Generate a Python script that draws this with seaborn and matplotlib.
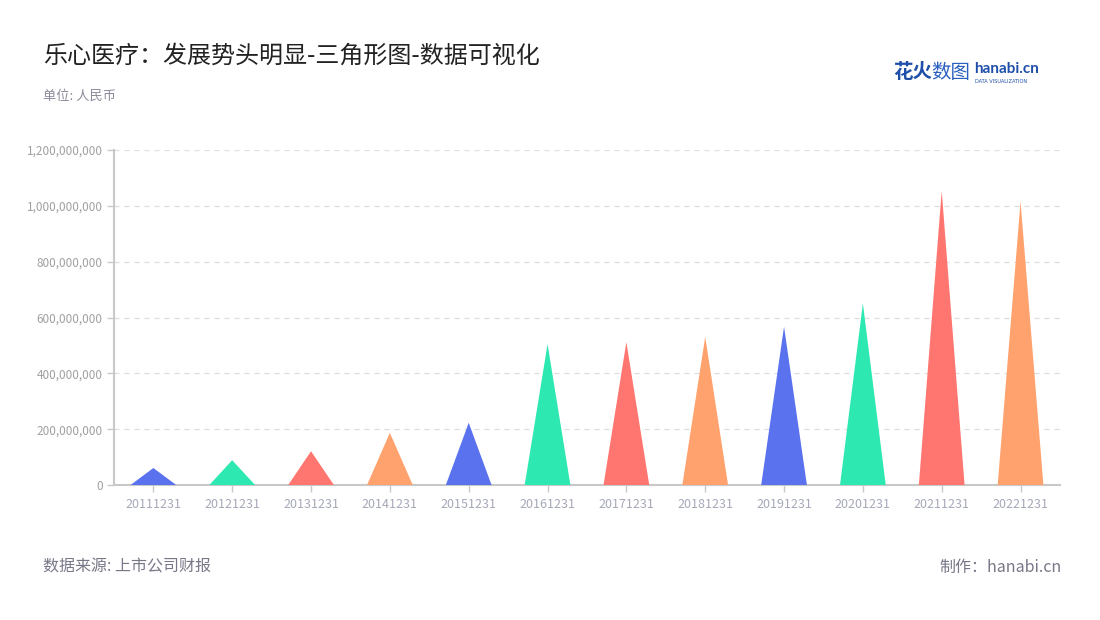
import matplotlib
matplotlib.use("Agg")
import matplotlib.pyplot as plt
from matplotlib.patches import Polygon
from matplotlib.ticker import FuncFormatter
import pandas as pd
import seaborn as sns

# data
dates = ["20111231", "20121231", "20131231", "20141231", "20151231", "20161231",
         "20171231", "20181231", "20191231", "20201231", "20211231", "20221231"]
revenue = [61e6, 89e6, 121e6, 187e6, 223e6, 505e6,
           512e6, 531e6, 567e6, 651e6, 1054e6, 1016e6]
palette = ["#5A72EE", "#2DE8B1", "#FF7670", "#FFA26E"]

sns.set_theme(style="white")
plt.rcParams["font.family"] = ["Noto Sans CJK SC", "DejaVu Sans"]

df = pd.DataFrame({"date": dates, "value": revenue})
colors = [palette[i % len(palette)] for i in range(len(dates))]

fig = plt.figure(figsize=(11, 6.2), dpi=100)
ax = fig.add_axes([0.1036, 0.2177, 0.86, 0.5403])

sns.barplot(data=df, x="date", y="value", hue="date", palette=colors,
            legend=False, width=0.58, saturation=1, ax=ax)

# turn each bar into a triangle
for bar in list(ax.patches):
    x0 = bar.get_x()
    w = bar.get_width()
    h = bar.get_height()
    c = bar.get_facecolor()
    tri = Polygon([(x0, 0), (x0 + w / 2, h), (x0 + w, 0)], closed=True,
                  facecolor=c, edgecolor="none", zorder=3)
    bar.remove()
    ax.add_patch(tri)

ax.set_ylim(0, 1.2e9)
ax.set_xlim(-0.5, len(dates) - 0.5)
ax.set_yticks([0, 2e8, 4e8, 6e8, 8e8, 10e8, 12e8])
ax.yaxis.set_major_formatter(FuncFormatter(lambda v, p: f"{int(v):,}"))
ax.set_xlabel("")
ax.set_ylabel("")

ax.grid(axis="y", color="#DDDDDD", linestyle=(0, (4, 4)), linewidth=0.9)
ax.set_axisbelow(True)
for s in ["top", "right"]:
    ax.spines[s].set_visible(False)
for s in ["left", "bottom"]:
    ax.spines[s].set_color("#C8C8C8")
    ax.spines[s].set_linewidth(1.5)
ax.tick_params(axis="y", colors="#C8C8C8", labelcolor="#A0A0A0", labelsize=8.5,
               length=5, width=1, left=True, pad=3)
ax.tick_params(axis="x", colors="#C8C8C8", labelcolor="#A5A9B8", labelsize=9,
               length=5, width=1, bottom=True, pad=4)

# texts
fig.text(0.039, 0.910, "乐心医疗：发展势头明显-三角形图-数据可视化", fontsize=17.3,
         color="#222222", va="center", ha="left")
fig.text(0.039, 0.844, "单位: 人民币", fontsize=9.5, color="#8A8A9A",
         va="center", ha="left")
fig.text(0.039, 0.085, "数据来源: 上市公司财报", fontsize=11.5, color="#777788",
         va="center", ha="left")
fig.text(0.965, 0.085, "制作：hanabi.cn", fontsize=11.5, color="#777788",
         va="center", ha="right")

# logo
fig.text(0.812, 0.883, "花火", fontsize=14, color="#1F4FA8", fontweight="bold",
         va="center", ha="left")
fig.text(0.847, 0.883, "数图", fontsize=14, color="#2B5FBF",
         va="center", ha="left")
fig.text(0.886, 0.888, "hanabi.cn", fontsize=11, color="#1F4FA8", fontweight="bold",
         va="center", ha="left", family=["Lato", "DejaVu Sans"])
fig.text(0.886, 0.869, "DATA VISUALIZATION", fontsize=3.6, color="#1F4FA8",
         va="center", ha="left", family=["DejaVu Sans"])

fig.savefig("out.png", dpi=100)
